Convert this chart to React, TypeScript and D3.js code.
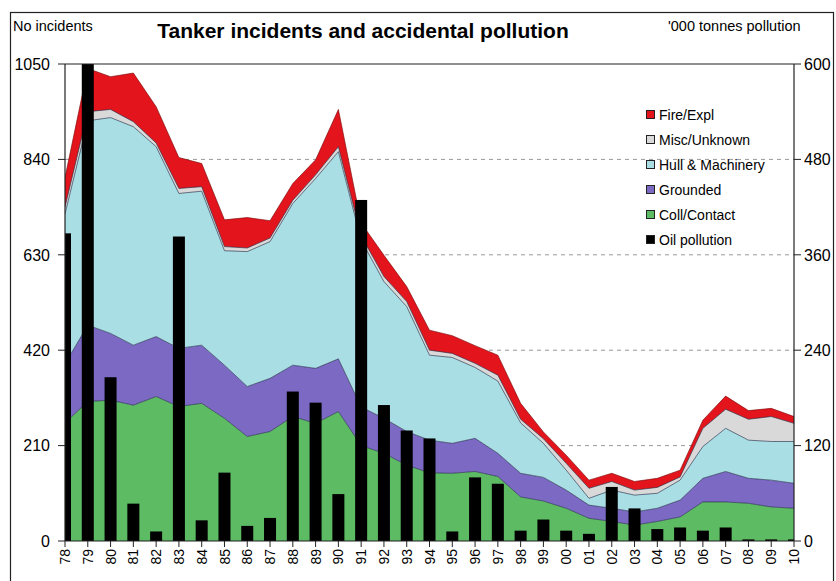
import React from "react";
import * as d3 from "d3";

const years = ["78","79","80","81","82","83","84","85","86","87","88","89","90","91","92","93","94","95","96","97","98","99","00","01","02","03","04","05","06","07","08","09","10"];
const collContact = [260,307,310,299,318,296,303,270,230,241,274,259,285,210,193,167,150,149,153,142,97,88,72,50,43,35,43,53,86,86,83,75,72];
const grounded = [130,168,147,132,132,128,128,117,110,117,113,121,116,85,77,74,72,66,73,51,52,52,40,29,29,29,29,37,52,67,55,59,55];
const hullMachinery = [330,450,475,481,418,341,339,252,297,301,356,418,456,367,301,275,187,189,156,159,111,75,44,15,40,37,33,44,70,95,84,85,92];
const miscUnknown = [15,20,18,11,8,11,10,9,8,8,7,8,11,10,11,11,11,9,9,13,8,10,15,22,19,11,13,7,40,42,46,55,40];
const fireExpl = [65,95,72,107,80,68,51,59,67,38,37,33,82,28,47,33,44,39,39,44,35,15,18,18,18,19,20,15,18,29,19,18,15];
const oilPollution = [387,600,206,47,12,383,26,86,19,29,188,174,59,429,171,139,129,12,80,72,13,27,13,9,68,41,15,17,13,17,2,2,2];

const leftTicks = [0,210,420,630,840,1050];
const rightTicks = [0,120,240,360,480,600];

const seriesNames = ["Coll/Contact","Grounded","Hull & Machinery","Misc/Unknown","Fire/Expl"];
const seriesColors = ["#5dbb63","#7b69c4","#a9dee5","#d9d9d9","#e3141c"];
const legendOrder = ["Fire/Expl","Misc/Unknown","Hull & Machinery","Grounded","Coll/Contact","Oil pollution"];
const legendColors = ["#e3141c","#d9d9d9","#a9dee5","#7b69c4","#5dbb63","#000000"];

const W = 836, H = 581;
const L = 65, R = 794, T = 64, B = 541;
const FONT = "'Liberation Sans', Arial, sans-serif";

export default function App() {
  const x = d3.scalePoint<string>().domain(years).range([L, R]);
  const yL = d3.scaleLinear().domain([0, 1050]).range([B, T]);
  const yR = d3.scaleLinear().domain([0, 600]).range([B, T]);

  const rows = years.map((yr, i) => ({
    year: yr,
    c0: collContact[i], c1: grounded[i], c2: hullMachinery[i], c3: miscUnknown[i], c4: fireExpl[i],
  }));
  const stack = d3.stack<any>().keys(["c0","c1","c2","c3","c4"]);
  const layers = stack(rows);
  const area = d3.area<any>().x((d) => x(d.data.year)!).y0((d) => yL(d[0])).y1((d) => yL(d[1]));
  const topLine = d3.line<any>().x((d) => x(d.data.year)!).y((d) => yL(d[1]));
  const barW = 12;

  return (
    <svg width={W} height={H} style={{ position: "absolute", left: 0, top: 0, background: "#fff" }} fontFamily={FONT}>
      <defs>
        <clipPath id="plotclip"><rect x={L} y={T - 2} width={R - L} height={B - T + 2} /></clipPath>
      </defs>
      <rect x={10.5} y={12.5} width={823} height={600} fill="#fff" stroke="#222" strokeWidth={1.2} />
      <text x={13} y={31} fontSize={14.5} fill="#000">No incidents</text>
      <text x={363} y={38} fontSize={21} fontWeight="bold" textAnchor="middle" fill="#000">Tanker incidents and accidental pollution</text>
      <text x={668} y={31} fontSize={14.5} fill="#000">'000 tonnes pollution</text>

      {leftTicks.filter((t) => t > 0 && t < 1050).map((t) => (
        <line key={"g" + t} x1={L} x2={R} y1={yL(t)} y2={yL(t)} stroke="#999" strokeDasharray="4,4" strokeWidth={1} />
      ))}

      <g clipPath="url(#plotclip)">
        {layers.map((layer, i) => (
          <path key={"a" + i} d={area(layer)!} fill={seriesColors[i]} />
        ))}
        {layers.map((layer, i) => (
          <path key={"l" + i} d={topLine(layer)!} fill="none" stroke={i === 4 ? "#7a0a0a" : "#1f2a44"} strokeWidth={0.8} strokeOpacity={0.8} />
        ))}
        {years.map((yr, i) => (
          <rect key={"b" + yr} x={x(yr)! - barW / 2} y={yR(oilPollution[i])} width={barW} height={B - yR(oilPollution[i])} fill="#000" />
        ))}
      </g>

      <line x1={L} x2={R} y1={T} y2={T} stroke="#222" strokeWidth={1.2} />
      <line x1={L} x2={L} y1={T} y2={B} stroke="#222" strokeWidth={1.2} />
      <line x1={R} x2={R} y1={T} y2={B} stroke="#222" strokeWidth={1.2} />
      <line x1={L} x2={R} y1={B} y2={B} stroke="#222" strokeWidth={1.2} />

      {leftTicks.map((t) => (
        <g key={"lt" + t}>
          <line x1={L - 7} x2={L} y1={yL(t)} y2={yL(t)} stroke="#222" />
          <text x={50} y={yL(t)} dy="0.36em" fontSize={16} textAnchor="end" fill="#000">{t}</text>
        </g>
      ))}
      {rightTicks.map((t) => (
        <g key={"rt" + t}>
          <line x1={R} x2={R + 7} y1={yR(t)} y2={yR(t)} stroke="#222" />
          <text x={804} y={yR(t)} dy="0.36em" fontSize={16} textAnchor="start" fill="#000">{t}</text>
        </g>
      ))}
      {years.map((yr) => (
        <g key={"xt" + yr}>
          <line x1={x(yr)!} x2={x(yr)!} y1={B} y2={B + 6} stroke="#222" />
          <text transform={`translate(${x(yr)!},549) rotate(-90)`} dy="0.36em" fontSize={14} textAnchor="end" fill="#000">{yr}</text>
        </g>
      ))}

      {legendOrder.map((name, i) => (
        <g key={"lg" + name}>
          <rect x={646.5} y={110.5 + i * 25} width={8} height={8} fill={legendColors[i]} stroke="#222" strokeWidth={1} />
          <text x={659} y={115 + i * 25} dy="0.36em" fontSize={14} fill="#000">{name}</text>
        </g>
      ))}
    </svg>
  );
}
